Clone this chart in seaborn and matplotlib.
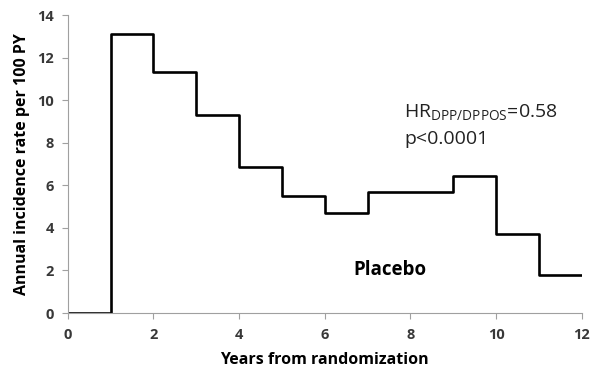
import matplotlib
matplotlib.use("Agg")
import matplotlib.pyplot as plt
import seaborn as sns
import pandas as pd

years = [0, 1, 2, 3, 4, 5, 6, 7, 8, 9, 10, 11, 12]
rates = [0.0, 13.1, 11.35, 9.3, 6.85, 5.52, 4.68, 5.68, 5.68, 6.42, 3.7, 1.78, 1.78]
xticks = [0, 2, 4, 6, 8, 10, 12]
yticks = [0, 2, 4, 6, 8, 10, 12, 14]

sns.set_theme(style="white")
plt.rcParams['font.family'] = ['Open Sans', 'DejaVu Sans']
plt.rcParams['mathtext.fontset'] = 'custom'
plt.rcParams['mathtext.rm'] = 'Open Sans'

df = pd.DataFrame({"year": years, "rate": rates})

fig = plt.figure(figsize=(5.9, 3.7), dpi=100)
ax = fig.add_axes([0.115, 0.154, 0.871, 0.805])
sns.lineplot(data=df, x="year", y="rate", drawstyle="steps-post",
             color="black", linewidth=1.9, ax=ax)

ax.set_xlim(0, 12)
ax.set_ylim(0, 14)
ax.set_xticks(xticks)
ax.set_yticks(yticks)
ax.set_xticklabels([str(t) for t in xticks], fontsize=10.5, fontweight='bold', color='#383838')
ax.set_yticklabels([str(t) for t in yticks], fontsize=10.5, fontweight='bold', color='#383838')
ax.tick_params(axis='both', which='both', length=4, width=0.8, color='#a0a0a0', direction='out',
               bottom=True, left=True)
ax.tick_params(axis='x', pad=7)
ax.tick_params(axis='y', pad=6)
for s in ['top', 'right']:
    ax.spines[s].set_visible(False)
for s in ['left', 'bottom']:
    ax.spines[s].set_color('#a0a0a0')
    ax.spines[s].set_linewidth(0.8)

ax.set_xlabel("Years from randomization", fontsize=11.5, fontweight='bold', color='black', labelpad=7)
ax.set_ylabel("Annual incidence rate per 100 PY", fontsize=11.5, fontweight='bold', color='black', labelpad=5)

ax.text(7.85, 9.2, r"HR$_{\mathrm{DPP/DPPOS}}$=0.58", fontsize=14, color='#222222', ha='left', va='baseline')
ax.text(7.85, 7.95, "p<0.0001", fontsize=14, color='#222222', ha='left', va='baseline')
ax.text(7.52, 2.0, "Placebo", fontsize=13.5, fontweight='bold', color='black', ha='center', va='center')

fig.savefig("out.png", dpi=100)
